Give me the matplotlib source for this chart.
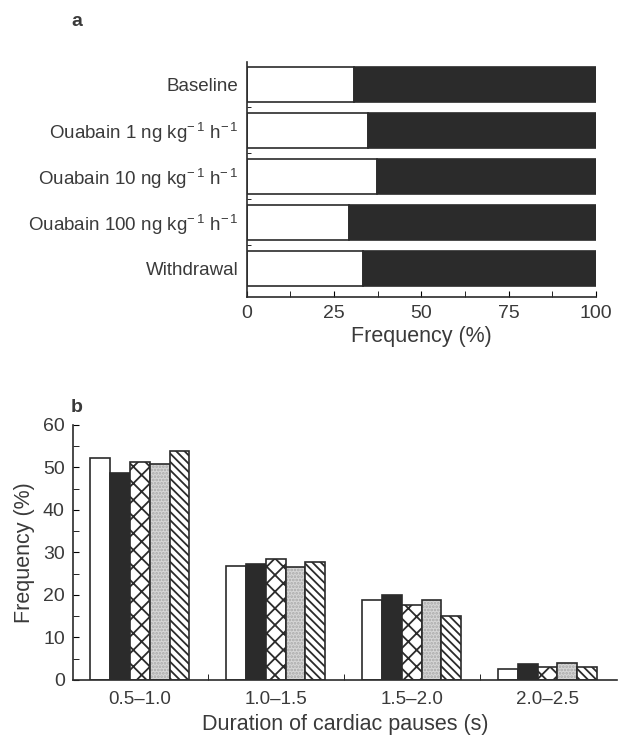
import numpy as np
import matplotlib
matplotlib.use("Agg")
import matplotlib.pyplot as plt
from matplotlib.ticker import MultipleLocator, FixedLocator

# panel a: proportion of pauses (white) vs rest (black), per condition
conditions = ["Baseline",
              r"Ouabain 1 ng kg$^{-\,1}$ h$^{-\,1}$",
              r"Ouabain 10 ng kg$^{-\,1}$ h$^{-\,1}$",
              r"Ouabain 100 ng kg$^{-\,1}$ h$^{-\,1}$",
              "Withdrawal"]
white_pct = [30.6, 34.8, 37.4, 29.4, 33.4]

# panel b: duration distribution per condition
durations = ["0.5\u20131.0", "1.0\u20131.5", "1.5\u20132.0", "2.0\u20132.5"]
freq_baseline = [52.2, 26.8, 18.8, 2.6]
freq_oua1 = [48.6, 27.3, 20.0, 3.7]
freq_oua10 = [51.3, 28.4, 17.6, 3.0]
freq_oua100 = [50.9, 26.5, 18.7, 3.9]
freq_withdrawal = [53.9, 27.8, 15.1, 3.0]

plt.rcParams['font.family'] = ['Liberation Sans', 'DejaVu Sans']
plt.rcParams['hatch.linewidth'] = 1.3
plt.rcParams['mathtext.default'] = 'regular'

DARK = '#2b2b2b'
TXT = '#3a3a3a'

fig = plt.figure(figsize=(6.2, 7.35), dpi=100)

# ---- panel a ----
ax1 = fig.add_axes([0.398, 0.596, 0.563, 0.320])
y = np.arange(len(conditions))
ax1.barh(y, white_pct, height=0.77, color='white', edgecolor=DARK, linewidth=1.2)
ax1.barh(y, 100 - np.array(white_pct), left=white_pct, height=0.77,
         color=DARK, edgecolor=DARK, linewidth=1.2)
ax1.set_xlim(0, 100)
ax1.set_ylim(4.62, -0.49)
ax1.set_yticks(y)
ax1.set_yticklabels(conditions, fontsize=13.5, color=TXT)
ax1.yaxis.set_minor_locator(FixedLocator(y[:-1] + 0.5))
ax1.xaxis.set_major_locator(MultipleLocator(25))
ax1.xaxis.set_minor_locator(MultipleLocator(12.5))
ax1.tick_params(axis='y', which='major', length=0, pad=6)
ax1.tick_params(axis='y', which='minor', direction='in', length=3)
ax1.tick_params(axis='x', which='both', direction='in', length=4, labelsize=14,
                labelcolor=TXT, pad=6)
for s in ['top', 'right']:
    ax1.spines[s].set_visible(False)
for s in ['left', 'bottom']:
    ax1.spines[s].set_linewidth(1.2)
    ax1.spines[s].set_color(DARK)
ax1.set_xlabel("Frequency (%)", fontsize=15.5, color=TXT, labelpad=3)
fig.text(77 / 620, 1 - 22 / 735, "a", fontsize=14, fontweight='bold',
         color=TXT, ha='center', va='center')

# ---- panel b ----
ax2 = fig.add_axes([0.118, 0.075, 0.877, 0.347])
series = [freq_baseline, freq_oua1, freq_oua10, freq_oua100, freq_withdrawal]
styles = [dict(color='white', hatch=None, hc=DARK),
          dict(color=DARK, hatch=None, hc=DARK),
          dict(color='white', hatch='xx', hc=DARK),
          dict(color='#d6d6d6', hatch='.....', hc='#a8a8a8'),
          dict(color='white', hatch='\\\\\\\\', hc=DARK)]
x = np.arange(len(durations))
w = 0.146
for i, (vals, st) in enumerate(zip(series, styles)):
    pos = x + (i - 2) * w
    # fill + hatch (hatch takes the edge colour), then the outline on top
    ax2.bar(pos, vals, width=w, color=st['color'], hatch=st['hatch'],
            edgecolor=st['hc'], linewidth=0)
    ax2.bar(pos, vals, width=w, fill=False, edgecolor=DARK, linewidth=1.2)
ax2.set_xlim(-0.49, 3.51)
ax2.set_ylim(0, 60)
ax2.set_xticks(x)
ax2.set_xticklabels(durations, fontsize=13.5, color=TXT)
ax2.xaxis.set_minor_locator(FixedLocator(x[:-1] + 0.5))
ax2.yaxis.set_major_locator(MultipleLocator(10))
ax2.yaxis.set_minor_locator(MultipleLocator(5))
ax2.tick_params(axis='x', which='major', length=0, pad=8)
ax2.tick_params(axis='x', which='minor', direction='in', length=4)
ax2.tick_params(axis='y', which='both', direction='in', length=4, labelsize=14,
                labelcolor=TXT, pad=6)
for s in ['top', 'right']:
    ax2.spines[s].set_visible(False)
for s in ['left', 'bottom']:
    ax2.spines[s].set_linewidth(1.2)
    ax2.spines[s].set_color(DARK)
ax2.set_ylabel("Frequency (%)", fontsize=15.5, color=TXT, labelpad=6)
ax2.set_xlabel("Duration of cardiac pauses (s)", fontsize=15.5, color=TXT, labelpad=4)
fig.text(77 / 620, 1 - 408 / 735, "b", fontsize=14, fontweight='bold',
         color=TXT, ha='center', va='center')

fig.savefig("out.png", dpi=100)
